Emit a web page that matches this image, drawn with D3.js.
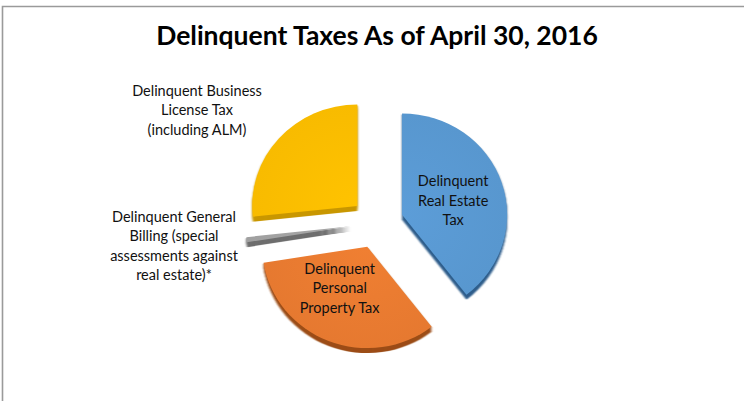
<!DOCTYPE html>
<html lang="en">
<head>
<meta charset="UTF-8">
<title>Delinquent Taxes As of April 30, 2016</title>
<style>
    body {
        margin: 0;
        padding: 0;
        background: #fff;
        font-family: 'Lato', 'Open Sans', sans-serif;
    }
    svg { display: block; }
    .label { font-size: 14.5px; fill: #111; }
</style>
</head>
<body>
<svg id="chart" width="744" height="401"></svg>

<script src="https://d3js.org/d3.v7.min.js"></script>
<script>
    // data (share of total, %)
    const categories = [
        "Delinquent Real Estate Tax",
        "Delinquent Personal Property Tax",
        "Delinquent General Billing (special assessments against real estate)*",
        "Delinquent Business License Tax (including ALM)"
    ];
    const values = [39.5, 33.0, 0.8, 26.7];
    const labelLines = [
        ["Delinquent", "Real Estate", "Tax"],
        ["Delinquent", "Personal", "Property Tax"],
        ["Delinquent General", "Billing (special", "assessments against", "real estate)*"],
        ["Delinquent Business", "License Tax", "(including ALM)"]
    ];
    const topColors = ["#5b9bd5", "#ed7d31", "#a5a5a5", "#ffc000"];
    const sideColors = ["#2f5e8c", "#9c4d17", "#6e6e6e", "#c99700"];

    const svg = d3.select("#chart");
    const W = 744, H = 401;

    // frame (only top and left edges show in the crop)
    svg.append("path")
        .attr("d", `M2.5,${H} V6.5 H${W}`)
        .attr("fill", "none")
        .attr("stroke", "#9a9a9a")
        .attr("stroke-width", 1.6);

    svg.append("text")
        .attr("x", 377)
        .attr("y", 45)
        .attr("text-anchor", "middle")
        .attr("font-size", 26.5)
        .attr("font-weight", "bold")
        .attr("fill", "#000")
        .text("Delinquent Taxes As of April 30, 2016");

    const cx = 377, cy = 223, r = 105, yScale = 0.965;
    const explode = 26.5, depth = 5;

    const pie = d3.pie().sort(null).value(d => d);
    const arcs = pie(values);
    const arc = d3.arc().innerRadius(0).outerRadius(r);

    const defs = svg.append("defs");
    topColors.forEach((c, i) => {
        const g = defs.append("radialGradient")
            .attr("id", "grad" + i)
            .attr("gradientUnits", "userSpaceOnUse")
            .attr("cx", 0).attr("cy", 0).attr("r", r);
        g.append("stop").attr("offset", "0%").attr("stop-color", d3.color(c).brighter(0.04));
        g.append("stop").attr("offset", "100%").attr("stop-color", d3.color(c).darker(0.08));
    });
    const blur = defs.append("filter").attr("id", "soft")
        .attr("x", "-20%").attr("y", "-20%").attr("width", "140%").attr("height", "140%");
    blur.append("feGaussianBlur").attr("stdDeviation", 0.8);

    const slices = svg.append("g")
        .selectAll("g")
        .data(arcs)
        .join("g")
        .attr("transform", d => {
            const mid = (d.startAngle + d.endAngle) / 2;
            const ox = cx + explode * Math.sin(mid);
            const oy = cy - explode * Math.cos(mid) * yScale;
            return `translate(${ox},${oy})`;
        });

    // extruded sides
    slices.each(function(d, i) {
        const g = d3.select(this).append("g")
            .attr("transform", `scale(1,${yScale})`)
            .attr("filter", "url(#soft)");
        for (let k = depth; k >= 1; k--) {
            g.append("path")
                .attr("d", arc(d))
                .attr("transform", `translate(0,${k / yScale})`)
                .attr("fill", sideColors[i]);
        }
    });

    // top faces
    slices.append("path")
        .attr("d", d => arc(d))
        .attr("transform", `scale(1,${yScale})`)
        .attr("fill", (d, i) => `url(#grad${i})`);

    // labels inside the two big slices
    const inside = [
        { i: 0, rad: 54 },
        { i: 1, rad: 45 }
    ];
    inside.forEach(o => {
        const d = arcs[o.i];
        const mid = (d.startAngle + d.endAngle) / 2;
        const ox = cx + explode * Math.sin(mid) + o.rad * Math.sin(mid) - (o.i === 1 ? 11 : 0);
        const oy = cy - (explode + o.rad) * Math.cos(mid) * yScale + (o.i === 0 ? 3 : 1);
        const lines = labelLines[o.i];
        const t = svg.append("text")
            .attr("class", "label")
            .attr("text-anchor", "middle");
        lines.forEach((s, j) => {
            t.append("tspan")
                .attr("x", ox)
                .attr("y", oy + (j - (lines.length - 1) / 2) * 19.5 + 5)
                .text(s);
        });
    });

    // labels outside the two small slices
    const outside = [
        { i: 3, x: 197, y: 110 },
        { i: 2, x: 174, y: 246 }
    ];
    outside.forEach(o => {
        const lines = labelLines[o.i];
        const t = svg.append("text")
            .attr("class", "label")
            .attr("text-anchor", "middle");
        lines.forEach((s, j) => {
            t.append("tspan")
                .attr("x", o.x)
                .attr("y", o.y + (j - (lines.length - 1) / 2) * 19.5 + 5)
                .text(s);
        });
    });
</script>
</body>
</html>
